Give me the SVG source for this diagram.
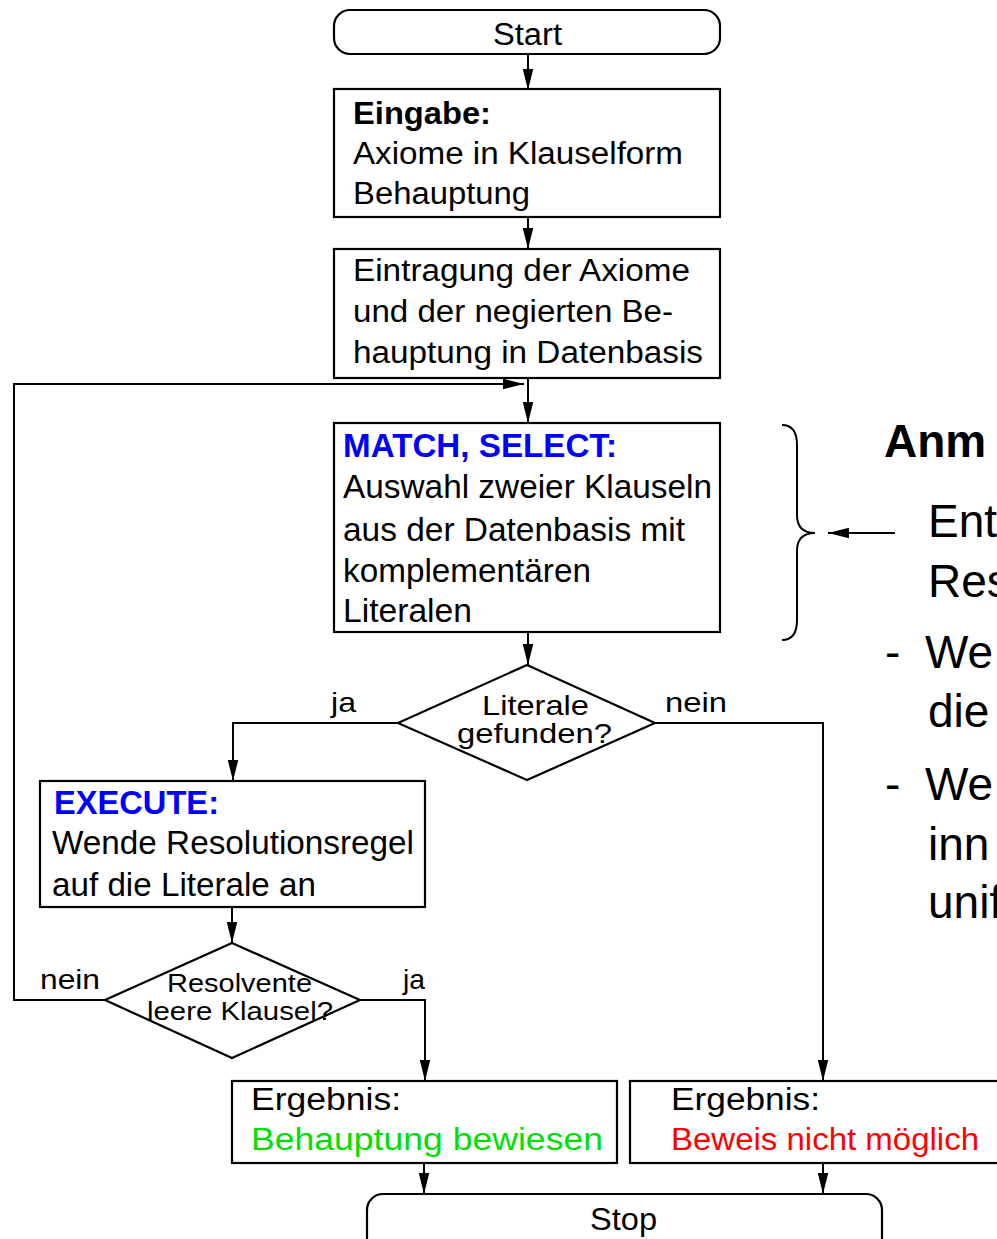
<svg xmlns="http://www.w3.org/2000/svg" width="997" height="1239" viewBox="0 0 997 1239">
<style>
.bx{fill:#fff;stroke:#000;stroke-width:2.2}
.t{font-family:"Liberation Sans",Arial,sans-serif;font-size:31px;fill:#000}
.n{font-size:33px}
.b{font-weight:bold}
.blue{fill:#0000ff}
.green{fill:#00e000}
.red{fill:#ff0000}
.sm{font-size:28px}
.xs{font-size:26px}
.big{font-family:"Liberation Sans",Arial,sans-serif;font-size:46px;fill:#000}
.cn{fill:none;stroke:#000;stroke-width:2}
</style>
<defs>
<marker id="ah" viewBox="0 0 20 10" refX="20" refY="5" markerWidth="21" markerHeight="11" orient="auto" markerUnits="userSpaceOnUse">
<path d="M0,0 L20,5 L0,10 z" fill="#000"/>
</marker>
</defs>
<rect width="997" height="1239" fill="#fff"/>
<g id="connectors">
<path class="cn" d="M528,54 V90" marker-end="url(#ah)"/>
<path class="cn" d="M528,217 V249" marker-end="url(#ah)"/>
<path class="cn" d="M528,378 V423" marker-end="url(#ah)"/>
<path class="cn" d="M105,1000 H14 V384 H524" marker-end="url(#ah)"/>
<path class="cn" d="M528,632 V665" marker-end="url(#ah)"/>
<path class="cn" d="M398,723 H233 V781" marker-end="url(#ah)"/>
<path class="cn" d="M655,723 H823 V1081" marker-end="url(#ah)"/>
<path class="cn" d="M232,907 V943" marker-end="url(#ah)"/>
<path class="cn" d="M360,1000 H425 V1081" marker-end="url(#ah)"/>
<path class="cn" d="M424,1163 V1194" marker-end="url(#ah)"/>
<path class="cn" d="M823,1163 V1194" marker-end="url(#ah)"/>
<path class="cn" d="M895,533 H828" marker-end="url(#ah)"/>
</g>
<g id="start">
<rect class="bx" x="334" y="10" width="386" height="44" rx="16"/>
<text class="t" x="493" y="45" textLength="69" lengthAdjust="spacingAndGlyphs">Start</text>
</g>
<g id="eingabe">
<rect class="bx" x="334" y="89" width="386" height="128"/>
<text class="t b" x="353" y="124" textLength="138" lengthAdjust="spacingAndGlyphs">Eingabe:</text>
<text class="t" x="353" y="164" textLength="330" lengthAdjust="spacingAndGlyphs">Axiome in Klauselform</text>
<text class="t" x="353" y="204" textLength="177" lengthAdjust="spacingAndGlyphs">Behauptung</text>
</g>
<g id="eintragung">
<rect class="bx" x="334" y="249" width="386" height="129"/>
<text class="t" x="353" y="281" textLength="337" lengthAdjust="spacingAndGlyphs">Eintragung der Axiome</text>
<text class="t" x="353" y="322" textLength="320" lengthAdjust="spacingAndGlyphs">und der negierten Be-</text>
<text class="t" x="353" y="363" textLength="350" lengthAdjust="spacingAndGlyphs">hauptung in Datenbasis</text>
</g>
<g id="match">
<rect class="bx" x="334" y="423" width="386" height="209"/>
<text class="t n b blue" x="343" y="457" textLength="274" lengthAdjust="spacingAndGlyphs">MATCH, SELECT:</text>
<text class="t n" x="343" y="498" textLength="369" lengthAdjust="spacingAndGlyphs">Auswahl zweier Klauseln</text>
<text class="t n" x="343" y="541" textLength="342" lengthAdjust="spacingAndGlyphs">aus der Datenbasis mit</text>
<text class="t n" x="343" y="582" textLength="248" lengthAdjust="spacingAndGlyphs">komplementären</text>
<text class="t n" x="343" y="622" textLength="129" lengthAdjust="spacingAndGlyphs">Literalen</text>
</g>
<g id="decision1">
<polygon class="bx" points="527,665 655,723 527,780 398,723"/>
<text class="t sm" x="482" y="715" textLength="107" lengthAdjust="spacingAndGlyphs">Literale</text>
<text class="t sm" x="457" y="743" textLength="155" lengthAdjust="spacingAndGlyphs">gefunden?</text>
<text class="t sm" x="331" y="712" textLength="25" lengthAdjust="spacingAndGlyphs">ja</text>
<text class="t sm" x="665" y="712" textLength="62" lengthAdjust="spacingAndGlyphs">nein</text>
</g>
<g id="execute">
<rect class="bx" x="40" y="781" width="385" height="126"/>
<text class="t n b blue" x="54" y="814" textLength="165" lengthAdjust="spacingAndGlyphs">EXECUTE:</text>
<text class="t n" x="52" y="854" textLength="362" lengthAdjust="spacingAndGlyphs">Wende Resolutionsregel</text>
<text class="t n" x="52" y="896" textLength="264" lengthAdjust="spacingAndGlyphs">auf die Literale an</text>
</g>
<g id="decision2">
<polygon class="bx" points="232,943 360,1000 232,1058 105,1000"/>
<text class="t xs" x="167" y="992" textLength="145" lengthAdjust="spacingAndGlyphs">Resolvente</text>
<text class="t xs" x="147" y="1020" textLength="186" lengthAdjust="spacingAndGlyphs">leere Klausel?</text>
<text class="t sm" x="40" y="989" textLength="60" lengthAdjust="spacingAndGlyphs">nein</text>
<text class="t sm" x="403" y="989" textLength="22" lengthAdjust="spacingAndGlyphs">ja</text>
</g>
<g id="result-proved">
<rect class="bx" x="232" y="1081" width="385" height="82"/>
<text class="t" x="251" y="1110" textLength="150" lengthAdjust="spacingAndGlyphs">Ergebnis:</text>
<text class="t green" x="251" y="1150" textLength="352" lengthAdjust="spacingAndGlyphs">Behauptung bewiesen</text>
</g>
<g id="result-failed">
<rect class="bx" x="630" y="1081" width="390" height="82"/>
<text class="t" x="671" y="1110" textLength="149" lengthAdjust="spacingAndGlyphs">Ergebnis:</text>
<text class="t red" x="671" y="1150" textLength="308" lengthAdjust="spacingAndGlyphs">Beweis nicht möglich</text>
</g>
<g id="stop">
<rect class="bx" x="367" y="1194" width="515" height="60" rx="16"/>
<text class="t" x="590" y="1230" textLength="67" lengthAdjust="spacingAndGlyphs">Stop</text>
</g>
<g id="annotation">
<path class="cn" d="M782,425 Q797,425 797,445 V515 Q797,533 815,533 Q797,533 797,551 V620 Q797,640 782,640"/>
<text class="big b" x="884" y="457" font-size="48">Anm</text>
<text class="big" x="928" y="537">Ent</text>
<text class="big" x="928" y="597">Res</text>
<text class="big" x="885" y="668">-</text>
<text class="big" x="925" y="668">We</text>
<text class="big" x="928" y="727">die</text>
<text class="big" x="885" y="800">-</text>
<text class="big" x="925" y="800">We</text>
<text class="big" x="928" y="860">inn</text>
<text class="big" x="928" y="918">unif</text>
</g>
</svg>
